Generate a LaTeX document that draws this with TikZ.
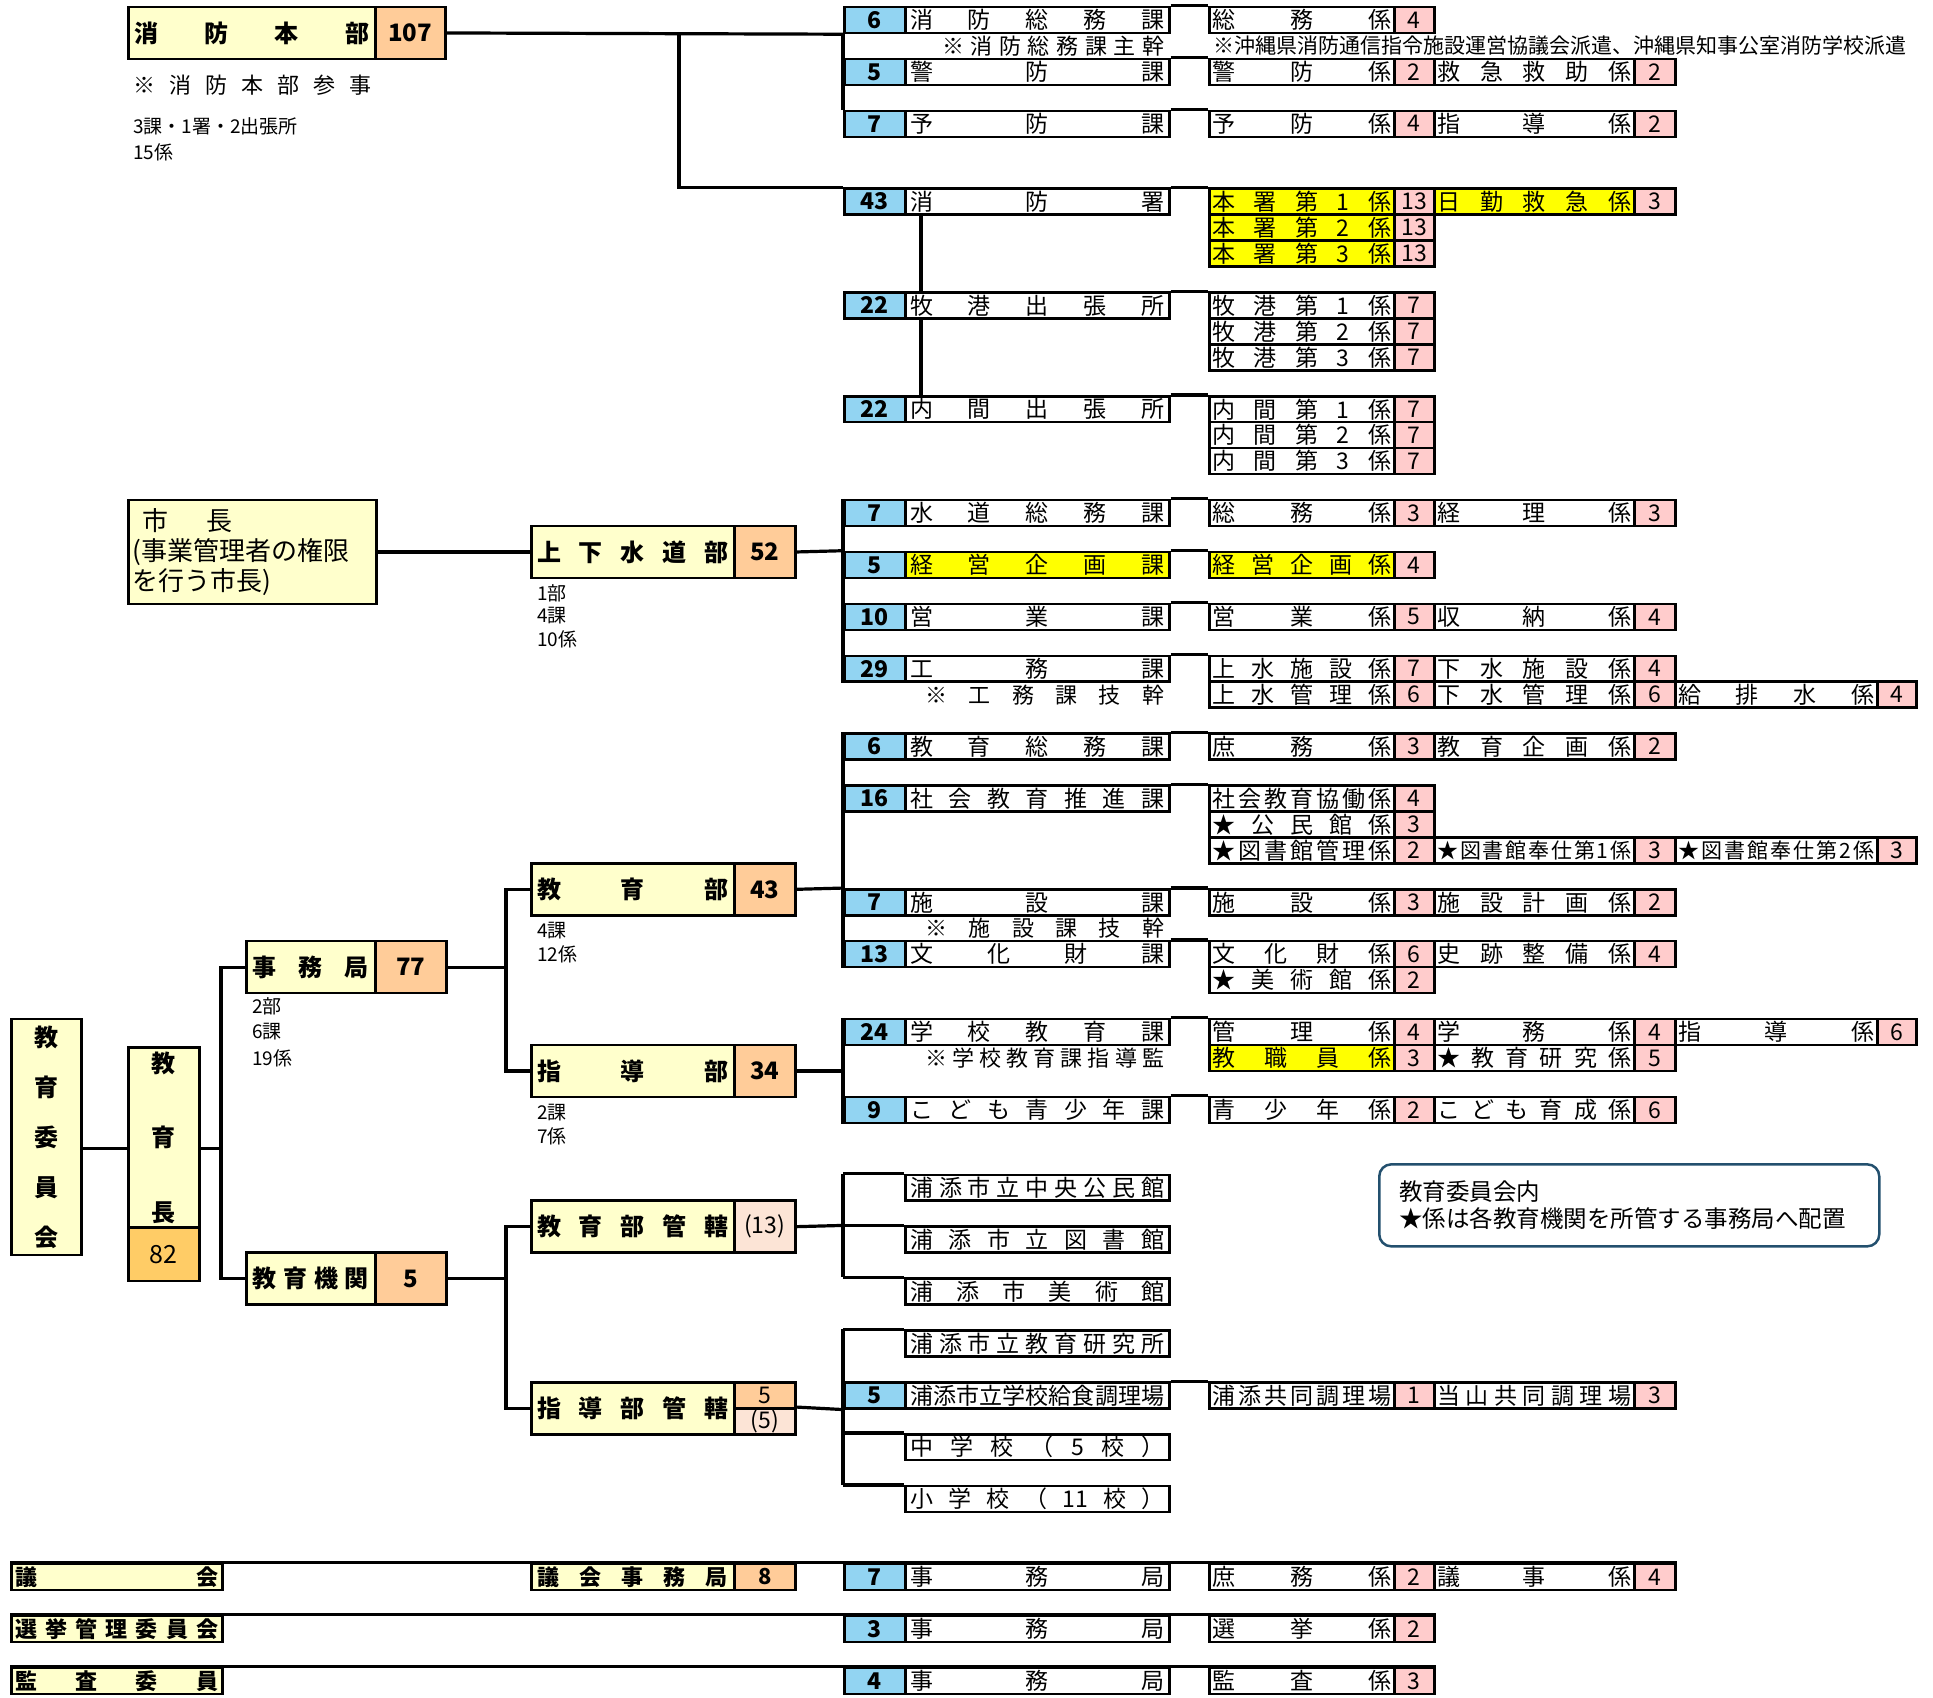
\documentclass[tikz,border=0pt]{standalone}
\usepackage{fontspec}
\setmainfont{Noto Sans CJK JP}
\usepackage{graphicx}

\definecolor{kablue}{HTML}{92D4F2}
\definecolor{kkpink}{HTML}{FFCCCC}
\definecolor{bupale}{HTML}{FFFFCC}
\definecolor{buorange}{HTML}{FFCC99}
\definecolor{chogold}{HTML}{FFCC66}
\definecolor{kakko}{HTML}{FCE4D6}
\definecolor{hilite}{HTML}{FFFF00}
\definecolor{notecol}{HTML}{23506E}

\pgfdeclarelayer{bg}
\pgfsetlayers{bg,main}

% spread the characters over a given width
\makeatletter
\def\jd@first#1{#1\jd@rest}
\def\jd@rest#1{\ifx\relax#1\else\hfill#1\expandafter\jd@rest\fi}
\newcommand{\jdist}[2]{\makebox[#1][s]{\jd@first#2\relax}}
\makeatother

\tikzset{
  cell/.style={draw, line width=2.5pt, inner sep=0pt, minimum height=25.95pt, anchor=west, fill=white, font=\fontsize{23}{25}\selectfont},
  bnum/.style={cell, fill=kablue, minimum width=61pt, font=\fontsize{23}{25}\selectfont\bfseries},
  kname/.style={cell, minimum width=264pt},
  kknum/.style={cell, fill=kkpink},
  bumon/.style={cell, fill=bupale, minimum height=51.9pt, font=\fontsize{24}{26}\selectfont\bfseries},
  bunum/.style={bumon, fill=buorange},
  conn/.style={line width=3.2pt},
  frame/.style={line width=3.2pt},
  memo/.style={anchor=west, inner sep=0pt, font=\fontsize{19}{21}\selectfont},
  chu/.style={anchor=west, inner sep=0pt, font=\fontsize{22}{24}\selectfont},
}

% ka row: blue number + name
\newcommand{\kaRow}[5][white]{%
  \node[bnum] (#2n) at (843,#3+0.5) {#4};
  \node[kname, fill=#1] (#2) at (904,#3+0.5) {\jdist{254pt}{#5}};
}
% kakari cells, three columns
\newcommand{\kkA}[5][white]{%
  \node[cell, fill=#1, minimum width=185pt] (#2) at (1208,#3+0.5) {\jdist{179pt}{#4}};
  \node[kknum, minimum width=40pt] (#2v) at (1393,#3+0.5) {#5};
}
\newcommand{\kkB}[5][white]{%
  \node[cell, fill=#1, minimum width=200pt] (#2) at (1433,#3+0.5) {\jdist{194pt}{#4}};
  \node[kknum, minimum width=41pt] (#2v) at (1633,#3+0.5) {#5};
}
\newcommand{\kkC}[5][white]{%
  \node[cell, fill=#1, minimum width=202pt] (#2) at (1674,#3+0.5) {\jdist{196pt}{#4}};
  \node[kknum, minimum width=39pt] (#2v) at (1876,#3+0.5) {#5};
}

\begin{document}
\begin{tikzpicture}[x=1pt, y=-25.95pt]
\useasboundingbox (0,-0.27) rectangle (1933,65.16);

% ---- shobo honbu
\node[bumon, minimum width=247pt] (hq) at (127,1) {\jdist{235pt}{消防本部}};
\node[bunum, minimum width=70pt] (hqv) at (374,1) {107};
\node[chu] (hqsanji) at (133,3) {\jdist{238pt}{※消防本部参事}};
\node[memo] (hqka) at (133,4.6) {3課・1署・2出張所};
\node[memo] (hqkakari) at (133,5.6) {15係};

\kaRow{r6f}{0}{6}{消防総務課}
\kkA{r6fa}{0}{総務係}{4}
\node[chu] (r6fnote) at (942,1.5) {\jdist{222pt}{※消防総務課主幹}};
\node[chu, font=\fontsize{21}{23}\selectfont] (haken) at (1213,1.5) {\jdist{690pt}{※沖縄県消防通信指令施設運営協議会派遣、沖縄県知事公室消防学校派遣}};
\kaRow{r5f}{2}{5}{警防課}
\kkA{r5fa}{2}{警防係}{2}
\kkB{r5fb}{2}{救急救助係}{2}
\kaRow{r7f}{4}{7}{予防課}
\kkA{r7fa}{4}{予防係}{4}
\kkB{r7fb}{4}{指導係}{2}

\kaRow{r43}{7}{43}{消防署}
\kkA[hilite]{r43a}{7}{本署第1係}{13}
\kkB[hilite]{r43b}{7}{日勤救急係}{3}
\kkA[hilite]{r43c}{8}{本署第2係}{13}
\kkA[hilite]{r43d}{9}{本署第3係}{13}
\kaRow{r22m}{11}{22}{牧港出張所}
\kkA{r22ma}{11}{牧港第1係}{7}
\kkA{r22mb}{12}{牧港第2係}{7}
\kkA{r22mc}{13}{牧港第3係}{7}
\kaRow{r22u}{15}{22}{内間出張所}
\kkA{r22ua}{15}{内間第1係}{7}
\kkA{r22ub}{16}{内間第2係}{7}
\kkA{r22uc}{17}{内間第3係}{7}

% ---- jogesuido
\node[bumon, minimum width=248pt, minimum height=103.8pt, font=\fontsize{26}{30}\selectfont, align=left, text width=240pt] (mayor) at (127,21) {\hspace*{10pt}市\hspace{38pt}長\\(事業管理者の権限\\を行う市長)};
\node[bumon, minimum width=203pt] (jogesui) at (530,21) {\jdist{191pt}{上下水道部}};
\node[bunum, minimum width=61pt] (jogesuiv) at (733,21) {52};
\node[memo] (jgsbu) at (537,22.6) {1部};
\node[memo] (jgska) at (537,23.45) {4課};
\node[memo] (jgskakari) at (537,24.35) {10係};

\kaRow{r7w}{19}{7}{水道総務課}
\kkA{r7wa}{19}{総務係}{3}
\kkB{r7wb}{19}{経理係}{3}
\kaRow[hilite]{r5w}{21}{5}{経営企画課}
\kkA[hilite]{r5wa}{21}{経営企画係}{4}
\kaRow{r10w}{23}{10}{営業課}
\kkA{r10wa}{23}{営業係}{5}
\kkB{r10wb}{23}{収納係}{4}
\kaRow{r29w}{25}{29}{工務課}
\kkA{r29wa}{25}{上水施設係}{7}
\kkB{r29wb}{25}{下水施設係}{4}
\node[chu] (r29wnote) at (925,26.5) {\jdist{239pt}{※工務課技幹}};
\kkA{r29wc}{26}{上水管理係}{6}
\kkB{r29wd}{26}{下水管理係}{6}
\kkC{r29we}{26}{給排水係}{4}

% ---- kyoiku iinkai
\node[bumon, minimum width=70pt, minimum height=236pt, align=center, font=\fontsize{24}{50}\selectfont\bfseries] (iinkai) at (10,43.55) {教\\育\\委\\員\\会};
\node[bumon, minimum width=71pt, minimum height=180pt, align=center, font=\fontsize{24}{74.5}\selectfont\bfseries] (kyocho) at (127,43.57) {教\\育\\長};
\node[bumon, fill=chogold, minimum width=71pt, minimum height=53pt, font=\fontsize{25}{27}\selectfont] (kyochov) at (127,48.07) {82};

\node[bumon, minimum width=129pt] (jimu) at (245,37) {\jdist{116pt}{事務局}};
\node[bunum, minimum width=71pt] (jimuv) at (374,37) {77};
\node[memo] (jimubu) at (252,38.5) {2部};
\node[memo] (jimuka) at (252,39.5) {6課};
\node[memo] (jimukakari) at (252,40.5) {19係};
\node[bumon, minimum width=129pt] (kikan) at (245,49) {\jdist{116pt}{教育機関}};
\node[bunum, minimum width=71pt] (kikanv) at (374,49) {5};

\node[bumon, minimum width=203pt] (kyoiku) at (530,34) {\jdist{191pt}{教育部}};
\node[bunum, minimum width=61pt] (kyoikuv) at (733,34) {43};
\node[memo] (kyoikuka) at (537,35.6) {4課};
\node[memo] (kyoikukakari) at (537,36.5) {12係};
\node[bumon, minimum width=203pt] (shido) at (530,41) {\jdist{191pt}{指導部}};
\node[bunum, minimum width=61pt] (shidov) at (733,41) {34};
\node[memo] (shidoka) at (537,42.6) {2課};
\node[memo] (shidokakari) at (537,43.5) {7係};
\node[bumon, minimum width=203pt] (kkan) at (530,47) {\jdist{191pt}{教育部管轄}};
\node[bumon, fill=kakko, minimum width=61pt, font=\fontsize{23}{25}\selectfont] (kkanv) at (733,47) {(13)};
\node[bumon, minimum width=203pt] (skan) at (530,54) {\jdist{191pt}{指導部管轄}};
\node[cell, fill=buorange, minimum width=61pt] (skanv) at (733,53.5) {5};
\node[cell, fill=kakko, minimum width=61pt] (skanp) at (733,54.5) {(5)};

\kaRow{r6e}{28}{6}{教育総務課}
\kkA{r6ea}{28}{庶務係}{3}
\kkB{r6eb}{28}{教育企画係}{2}
\kaRow{r16e}{30}{16}{社会教育推進課}
\kkA{r16ea}{30}{社会教育協働係}{4}
\kkA{r16eb}{31}{★公民館係}{3}
\kkA{r16ec}{32}{★図書館管理係}{2}
\kkB{r16ed}{32}{{\fontsize{21}{23}\selectfont\jdist{194pt}{★図書館奉仕第1係}}}{3}
\kkC{r16ee}{32}{{\fontsize{21}{23}\selectfont\jdist{196pt}{★図書館奉仕第2係}}}{3}
\kaRow{r7e}{34}{7}{施設課}
\kkA{r7ea}{34}{施設係}{3}
\kkB{r7eb}{34}{施設計画係}{2}
\node[chu] (r7enote) at (925,35.5) {\jdist{239pt}{※施設課技幹}};
\kaRow{r13e}{36}{13}{文化財課}
\kkA{r13ea}{36}{文化財係}{6}
\kkB{r13eb}{36}{史跡整備係}{4}
\kkA{r13ec}{37}{★美術館係}{2}

\kaRow{r24e}{39}{24}{学校教育課}
\kkA{r24ea}{39}{管理係}{4}
\kkB{r24eb}{39}{学務係}{4}
\kkC{r24ec}{39}{指導係}{6}
\node[chu] (r24enote) at (925,40.5) {\jdist{239pt}{※学校教育課指導監}};
\kkA[hilite]{r24ed}{40}{教職員係}{3}
\kkB{r24ee}{40}{★教育研究係}{5}
\kaRow{r9e}{42}{9}{こども青少年課}
\kkA{r9ea}{42}{青少年係}{2}
\kkB{r9eb}{42}{こども育成係}{6}

\node[kname] (chuo) at (904,45.5) {\jdist{254pt}{浦添市立中央公民館}};
\node[kname] (tosho) at (904,47.5) {\jdist{254pt}{浦添市立図書館}};
\node[kname] (bijutsu) at (904,49.5) {\jdist{254pt}{浦添市美術館}};
\node[kname] (kenkyu) at (904,51.5) {\jdist{254pt}{浦添市立教育研究所}};
\kaRow{r5k}{53}{5}{浦添市立学校給食調理場}
\kkA{r5ka}{53}{浦添共同調理場}{1}
\kkB{r5kb}{53}{当山共同調理場}{3}
\node[kname] (chugaku) at (904,55.5) {\jdist{254pt}{中学校（5校）}};
\node[kname] (shogaku) at (904,57.5) {\jdist{254pt}{小学校（{11}校）}};

\node[draw=notecol, line width=2.5pt, rounded corners=12pt, anchor=north west, minimum width=500pt, minimum height=82pt, inner xsep=20pt, text width=460pt, align=left, font=\fontsize{23.5}{27}\selectfont] (note) at (1378,44.55) {教育委員会内\\★係は各教育機関を所管する事務局へ配置};

% ---- gikai, senkyo, kansa
\node[bumon, minimum width=211pt, minimum height=25.95pt, font=\fontsize{22}{24}\selectfont\bfseries] (gikai) at (10,60.5) {\jdist{203pt}{議会}};
\node[bumon, minimum width=203pt, minimum height=25.95pt, font=\fontsize{22}{24}\selectfont\bfseries] (gjimu) at (530,60.5) {\jdist{190pt}{議会事務局}};
\node[bunum, minimum width=61pt, minimum height=25.95pt, font=\fontsize{22}{24}\selectfont\bfseries] (gjimuv) at (733,60.5) {8};
\kaRow{r7g}{60}{7}{事務局}
\kkA{r7ga}{60}{庶務係}{2}
\kkB{r7gb}{60}{議事係}{4}
\node[bumon, minimum width=211pt, minimum height=25.95pt, font=\fontsize{22}{24}\selectfont\bfseries] (senkyo) at (10,62.5) {\jdist{203pt}{選挙管理委員会}};
\kaRow{r3s}{62}{3}{事務局}
\kkA{r3sa}{62}{選挙係}{2}
\node[bumon, minimum width=211pt, minimum height=25.95pt, font=\fontsize{22}{24}\selectfont\bfseries] (kansa) at (10,64.5) {\jdist{203pt}{監査委員}};
\kaRow{r4k}{64}{4}{事務局}
\kkA{r4ka}{64}{監査係}{3}

% top lines across the gap
\draw[frame] (r6f.north east) -- (r6fa.north west);
\draw[frame] (r5f.north east) -- (r5fa.north west);
\draw[frame] (r7f.north east) -- (r7fa.north west);
\draw[frame] (r43.north east) -- (r43a.north west);
\draw[frame] (r22m.north east) -- (r22ma.north west);
\draw[frame] (r22u.north east) -- (r22ua.north west);
\draw[frame] (r7w.north east) -- (r7wa.north west);
\draw[frame] (r5w.north east) -- (r5wa.north west);
\draw[frame] (r10w.north east) -- (r10wa.north west);
\draw[frame] (r29w.north east) -- (r29wa.north west);
\draw[frame] (r6e.north east) -- (r6ea.north west);
\draw[frame] (r16e.north east) -- (r16ea.north west);
\draw[frame] (r7e.north east) -- (r7ea.north west);
\draw[frame] (r13e.north east) -- (r13ea.north west);
\draw[frame] (r24e.north east) -- (r24ea.north west);
\draw[frame] (r9e.north east) -- (r9ea.north west);
\draw[frame] (r5k.north east) -- (r5ka.north west);
\draw[frame] (gikai.north west) -- (r7gbv.north east);
\draw[frame] (senkyo.north west) -- (r3sav.north east);
\draw[frame] (kansa.north west) -- (r4kav.north east);

% connectors
\begin{pgfonlayer}{bg}
\coordinate (hqj) at (679,1);
\draw[conn] (hqv.east) -- (r6fn.south west);
\draw[conn] (r6fn.south west) -- (r7fn.north west);
\draw[conn] (hqj) |- (r43n.north west);
\draw[conn] ([xshift=17pt]r43.south west) -- ([xshift=17pt]r22u.north west);

\draw[conn] (mayor.east) -- (jogesui.west);
\draw[conn] (jogesuiv.east) -- (r5wn.north west);
\draw[conn] (r7wn.north west) -- (r29wn.south west);

\coordinate (kj) at (221,44);
\coordinate (ej) at (506,37);
\coordinate (kj2) at (506,49);
\draw[conn] (iinkai.east |- kj) -- (kj);
\draw[conn] (jimu.west) -| (kj) |- (kikan.west);
\draw[conn] (jimuv.east) -- (ej);
\draw[conn] (kyoiku.west) -| (ej) |- (shido.west);
\draw[conn] (kikanv.east) -- (kj2);
\draw[conn] (kkan.west) -| (kj2) |- (skan.west);

\draw[conn] (kyoikuv.east) -- (r7en.north west);
\draw[conn] (r6en.north west) -- (r13en.south west);
\draw[conn] (shidov.east) -- (shidov.east -| r9en.west);
\draw[conn] (r24en.north west) -- (r9en.south west);

\draw[conn] (kkanv.east) -- ([xshift=-61pt]tosho.north west);
\draw[conn] ([xshift=-61pt]chuo.north west) -- ([xshift=-61pt]bijutsu.north west);
\draw[conn] ([xshift=-61pt]chuo.north west) -- (chuo.north west);
\draw[conn] ([xshift=-61pt]tosho.north west) -- (tosho.north west);
\draw[conn] ([xshift=-61pt]bijutsu.north west) -- (bijutsu.north west);

\draw[conn] (skanp.north east) -- (r5kn.south west);
\draw[conn] ([xshift=-61pt]kenkyu.north west) -- ([xshift=-61pt]shogaku.north west);
\draw[conn] ([xshift=-61pt]kenkyu.north west) -- (kenkyu.north west);
\draw[conn] ([xshift=-61pt]chugaku.north west) -- (chugaku.north west);
\draw[conn] ([xshift=-61pt]shogaku.north west) -- (shogaku.north west);
\end{pgfonlayer}
\end{tikzpicture}
\end{document}
